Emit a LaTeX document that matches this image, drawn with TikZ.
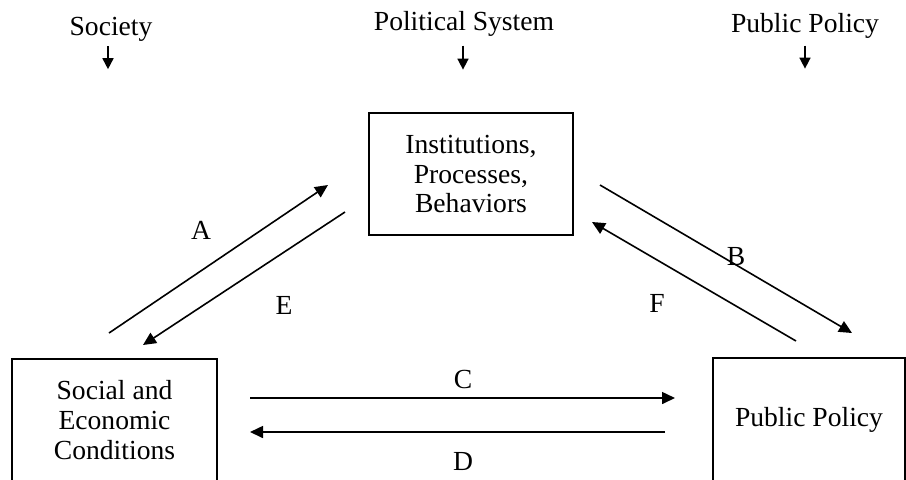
\documentclass[tikz,border=0pt]{standalone}
\usepackage{fontspec}
\setmainfont{Liberation Serif}
\usetikzlibrary{arrows.meta}

\begin{document}
\begin{tikzpicture}[x=0.5pt,y=-0.5pt,font=\fontsize{13.8}{14.8}\selectfont,
  box/.style={draw,line width=0.8pt,align=center,inner sep=0pt},
  flow/.style={line width=0.8pt,-{Triangle[length=6.5pt,width=6pt]}},
  tick/.style={line width=0.8pt,-{Triangle[length=5.5pt,width=5.5pt]}}]
\useasboundingbox (0,0) rectangle (906,479);
\clip (0,0) rectangle (906,479);
% headings
\node (society) at (111,29) {Society};
\node (polsys) at (464,24) {Political System};
\node (pubpol) at (805,26) {Public Policy};
\draw[tick] ([xshift=-1.5pt,yshift=1pt]society.south) -- ++(0,23);
\draw[tick] ([xshift=-0.5pt,yshift=-1pt]polsys.south) -- ++(0,24);
\draw[tick] ([yshift=0pt]pubpol.south) -- ++(0,23);
% boxes
\node[box,minimum width=102pt,minimum height=61pt] (inst) at (471,174) {Institutions,\\Processes,\\Behaviors};
\node[box,minimum width=102.5pt,minimum height=61pt] (soc) at (114.5,420) {Social and\\Economic\\Conditions};
\node[box,minimum width=96pt,minimum height=62pt] (pol) at (809,420) {Public Policy};
% arrow ends
\coordinate (a1) at (109,333); \coordinate (a2) at (328,185);
\coordinate (e1) at (345,212); \coordinate (e2) at (143,345);
\coordinate (b1) at (600,185); \coordinate (b2) at (852,333);
\coordinate (f1) at (796,341); \coordinate (f2) at (592,222);
\coordinate (c1) at (250,398); \coordinate (c2) at (675,398);
\coordinate (d1) at (665,432); \coordinate (d2) at (250,432);
\draw[flow] (a1) -- (a2);
\draw[flow] (e1) -- (e2);
\draw[flow] (b1) -- (b2);
\draw[flow] (f1) -- (f2);
\draw[flow] (c1) -- (c2);
\draw[flow] (d1) -- (d2);
% labels
\node (la) at (201,230) {A};
\node (le) at (284,305) {E};
\node (lb) at (736,256) {B};
\node (lf) at (657,303) {F};
\node (lc) at (463,379) {C};
\node (ld) at (463,461) {D};
\end{tikzpicture}
\end{document}
